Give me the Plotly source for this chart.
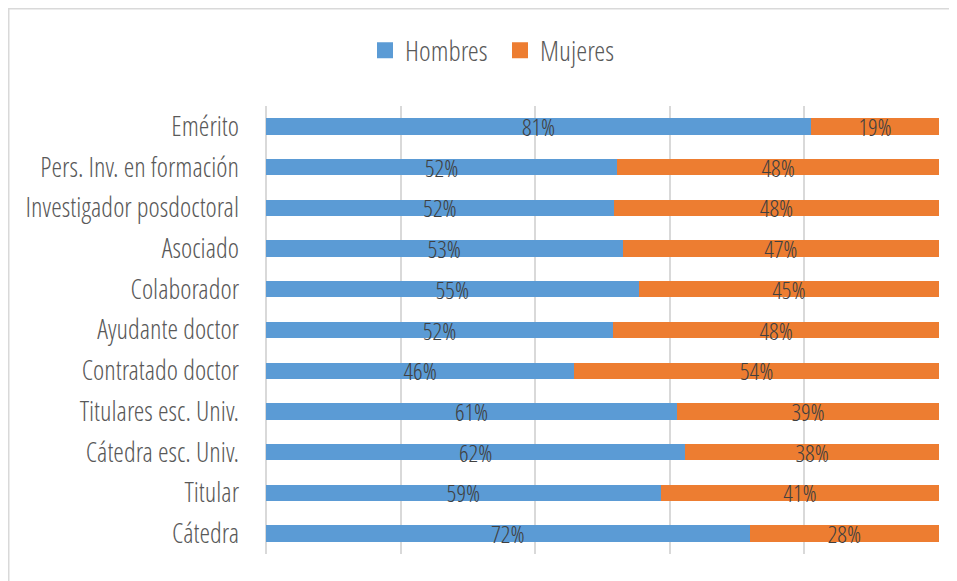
import plotly.graph_objects as go

categories = ["Emérito", "Pers. Inv. en formación", "Investigador posdoctoral", "Asociado",
              "Colaborador", "Ayudante doctor", "Contratado doctor", "Titulares esc. Univ.",
              "Cátedra esc. Univ.", "Titular", "Cátedra"]
hombres = [81.0, 52.2, 51.7, 53.0, 55.4, 51.6, 45.8, 61.1, 62.3, 58.7, 71.9]
mujeres = [19.0, 47.8, 48.3, 47.0, 44.6, 48.4, 54.2, 38.9, 37.7, 41.3, 28.1]
series_names = ["Hombres", "Mujeres"]
series_colors = ["#5B9BD5", "#ED7D31"]

FONT = "Open Sans Condensed Light, Roboto Condensed, Open Sans, sans-serif"

# page has an 8px body offset; figure coordinates below are relative to it
L, T, PW, PH = 258, 98, 673, 448
W, H = 957, 581

fig = go.Figure()
for name, vals, col in zip(series_names, [hombres, mujeres], series_colors):
    fig.add_trace(go.Bar(
        y=categories, x=vals, name=name, orientation="h", showlegend=False,
        marker=dict(color=col, line=dict(width=0)),
        text=[f"{v:.0f}%" for v in vals],
        textposition="inside", insidetextanchor="middle", constraintext="none",
        textfont=dict(family=FONT, size=24, color="#404040"),
        cliponaxis=False,
    ))
# legend entries with larger square swatches
for name, col in zip(series_names, series_colors):
    fig.add_trace(go.Scatter(
        x=[None], y=[None], mode="markers", name=name,
        marker=dict(symbol="square", size=16, color=col),
        showlegend=True, hoverinfo="skip",
    ))

fig.update_layout(
    barmode="stack", bargap=0.6,
    width=W, height=H,
    margin=dict(l=L, r=W - L - PW, t=T, b=H - T - PH),
    plot_bgcolor="white", paper_bgcolor="white",
    font=dict(family=FONT, color="#595959"),
    legend=dict(orientation="h", x=(357 - L) / PW, xanchor="left",
                y=1 + (T - 42.5) / PH, yanchor="middle",
                font=dict(family=FONT, size=28, color="#595959"), traceorder="normal",
                itemsizing="trace", entrywidth=90, entrywidthmode="pixels"),
    shapes=[dict(type="rect", xref="paper", yref="paper",
                 x0=(-L + 0.5) / PW, x1=1.2, y0=-0.2, y1=1 + (T - 0.5) / PH,
                 line=dict(color="#d9d9d9", width=2), fillcolor="rgba(0,0,0,0)", layer="below")],
)
fig.update_xaxes(range=[0, 100], dtick=20, showgrid=True, gridcolor="#d9d9d9", gridwidth=1.5,
                 showticklabels=False, zeroline=True, zerolinecolor="#d9d9d9", zerolinewidth=1.5,
                 fixedrange=True)
fig.update_yaxes(autorange="reversed", tickfont=dict(family=FONT, size=27, color="#595959"),
                 ticks="", ticklabelstandoff=26, showgrid=False, fixedrange=True)
fig.write_html("out.html")
